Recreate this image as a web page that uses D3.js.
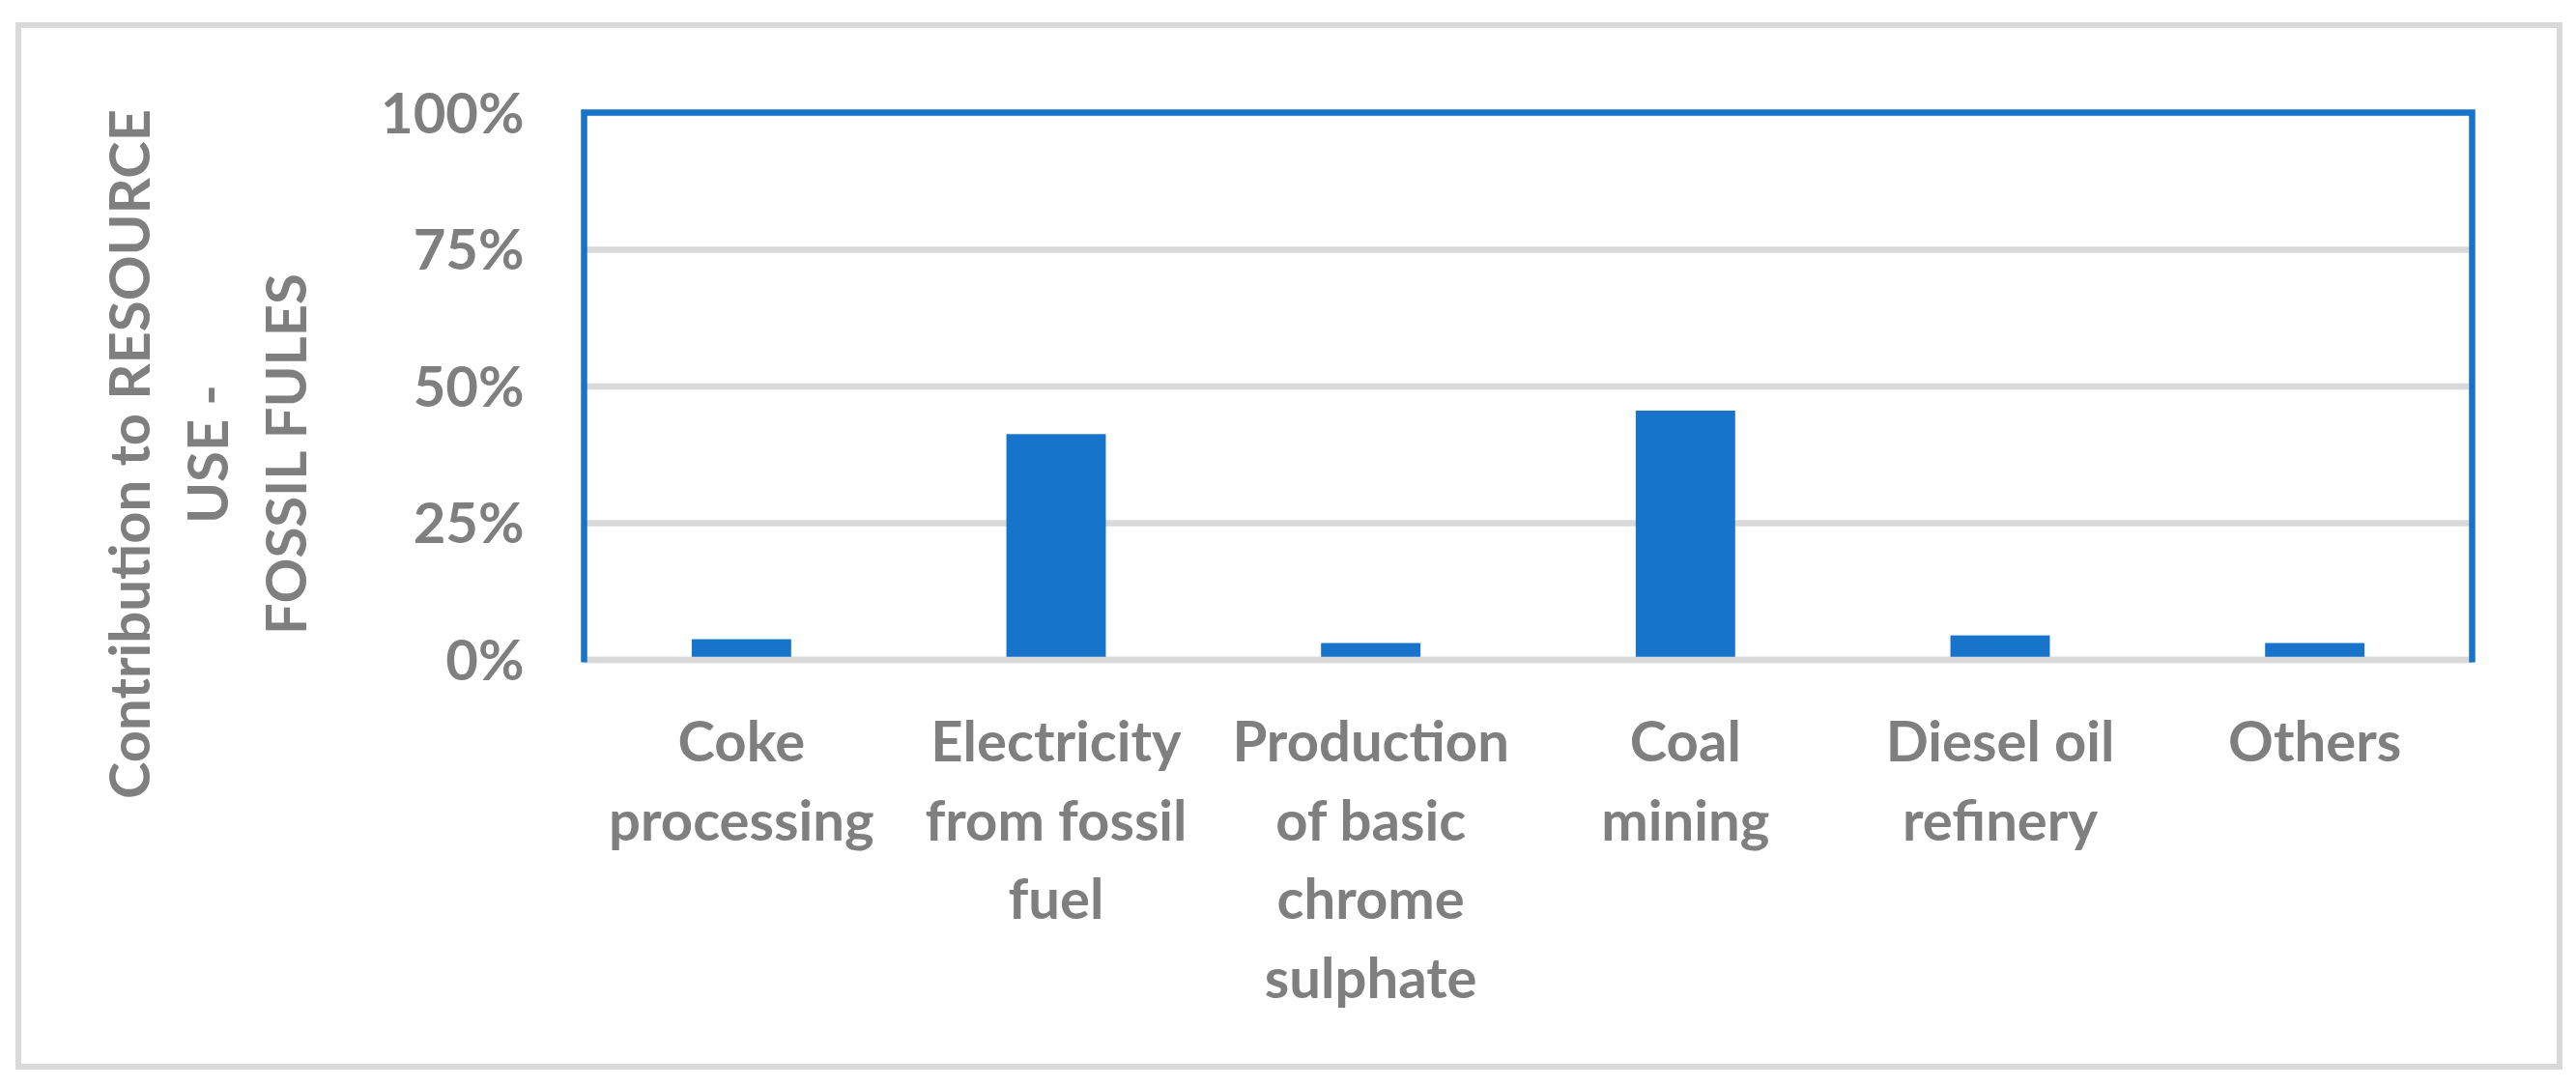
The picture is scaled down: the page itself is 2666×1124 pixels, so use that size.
<!DOCTYPE html>
<html><head><meta charset="utf-8">
<script src="https://cdn.jsdelivr.net/npm/d3@7"></script>
<style>html,body{margin:0;padding:0;background:#fff;} svg{display:block;}</style>
</head><body>
<svg id="chart" width="2666" height="1124"></svg>
<script>
const categories = ["Coke\nprocessing", "Electricity\nfrom fossil\nfuel", "Production\nof basic\nchrome\nsulphate", "Coal\nmining", "Diesel oil\nrefinery", "Others"];
const values = [0.037, 0.412, 0.030, 0.455, 0.044, 0.030];
const yTicks = [0, 0.25, 0.5, 0.75, 1];
const yTitleLines = ["Contribution to RESOURCE", "USE -", "FOSSIL FULES"];

const svg = d3.select("#chart");
const font = "Lato, 'Open Sans', sans-serif";
const gray = "#7f7f7f", blue = "#1874cb", grid = "#d9d9d9";
const fs = 58;

svg.append("rect").attr("width", 2666).attr("height", 1124).attr("fill", "#fff");
svg.append("rect").attr("x", 19).attr("y", 26).attr("width", 2630).attr("height", 1078)
  .attr("fill", "#fff").attr("stroke", grid).attr("stroke-width", 6);

const plot = {left: 604.5, right: 2558.5, top: 116.5, bottom: 682.5};
const x = d3.scaleBand().domain(categories).range([plot.left, plot.right]).paddingInner(0.684).paddingOuter(0.342);
const y = d3.scaleLinear().domain([0, 1]).range([plot.bottom, plot.top]);

// y axis with gridlines
const gy = svg.append("g").attr("transform", `translate(${plot.left},0)`)
  .call(d3.axisLeft(y).tickValues(yTicks).tickFormat(d3.format(".0%"))
    .tickSize(-(plot.right - plot.left)).tickPadding(62));
gy.select(".domain").remove();
gy.selectAll(".tick line").attr("stroke", grid).attr("stroke-width", 6.5);
gy.selectAll(".tick text").attr("fill", gray).attr("font-family", font)
  .attr("font-size", fs).attr("font-weight", 700).attr("dy", "0.36em");

// bars
svg.append("g").selectAll("rect").data(values).join("rect")
  .attr("x", (d, i) => x(categories[i]))
  .attr("width", x.bandwidth())
  .attr("y", d => y(d))
  .attr("height", d => y(0) - y(d))
  .attr("fill", blue);

// x axis
const gx = svg.append("g").attr("transform", `translate(0,${plot.bottom})`)
  .call(d3.axisBottom(x).tickSize(0));
gx.select(".domain").attr("stroke", grid).attr("stroke-width", 6.5);
gx.selectAll(".tick text").each(function(d) {
  const t = d3.select(this);
  t.text(null).attr("dy", null).attr("y", null)
    .attr("fill", gray).attr("font-family", font).attr("font-size", fs).attr("font-weight", 700)
    .attr("text-anchor", "middle");
  d.split("\n").forEach((line, i) => {
    t.append("tspan").attr("x", 0).attr("y", 105.5 + i * 81.5).text(line);
  });
});

// plot area border (blue) top/left/right
svg.append("path")
  .attr("d", `M${plot.left},${plot.bottom + 3}V${plot.top}H${plot.right}V${plot.bottom + 3}`)
  .attr("fill", "none").attr("stroke", blue).attr("stroke-width", 6.5);

// y title
const gt = svg.append("g");
yTitleLines.forEach((line, i) => {
  gt.append("text")
    .attr("transform", `translate(${155 + i * 81},470) rotate(-90)`)
    .attr("text-anchor", "middle")
    .attr("fill", gray).attr("font-family", font).attr("font-size", fs).attr("font-weight", 700)
    .text(line);
});
</script>
</body></html>
